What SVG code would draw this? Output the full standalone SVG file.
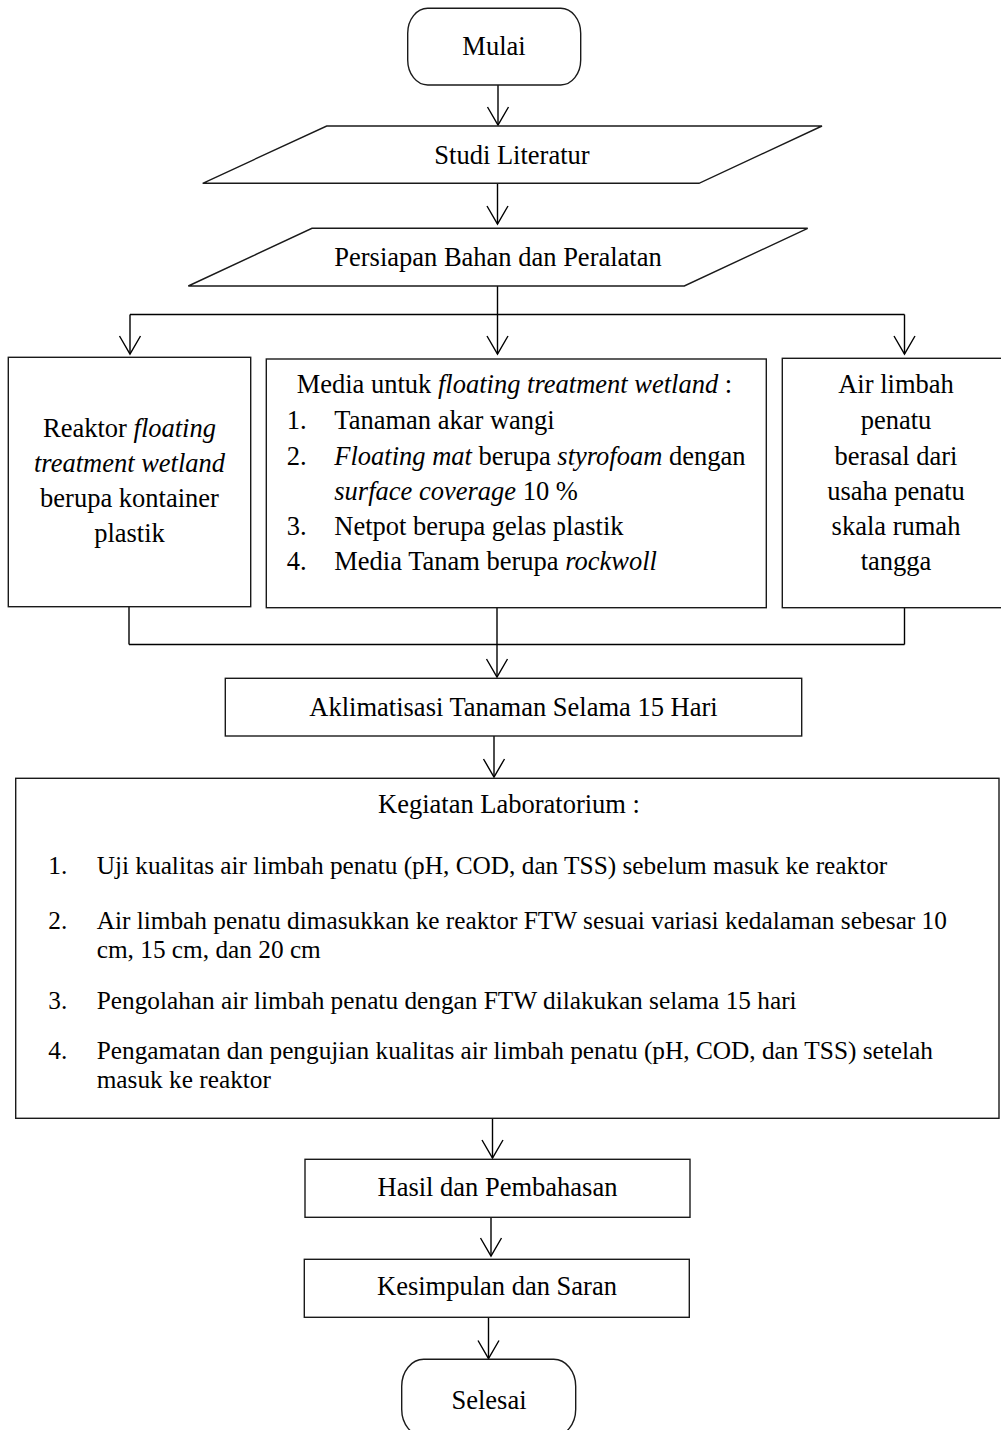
<svg xmlns="http://www.w3.org/2000/svg" width="1001" height="1430" viewBox="0 0 1001 1430">
<style>
  .bx { fill: #fff; stroke: #1a1a1a; stroke-width: 1.4; }
  .ln { fill: none; stroke: #000; stroke-width: 1.4; }
  .ar { fill: none; stroke: #000; stroke-width: 1.4; marker-end: url(#arr); }
  text { font-family: "Liberation Serif", "Times New Roman", serif; font-size: 26.5px; fill: #000; }
  .c { text-anchor: middle; }
  .sm { font-size: 25.3px; }
  .i { font-style: italic; }
</style>
<defs>
  <marker id="arr" markerUnits="userSpaceOnUse" markerWidth="26" markerHeight="28" viewBox="-22 -14 26 28" refX="0" refY="0" orient="auto">
    <path d="M-18,-10.5 L0,0 L-18,10.5" fill="none" stroke="#000" stroke-width="1.4"/>
  </marker>
</defs>
<rect width="1001" height="1430" fill="#fff"/>

<g id="connectors">
  <line class="ar" x1="498" y1="85" x2="498" y2="125"/>
  <line class="ar" x1="497.5" y1="183.5" x2="497.5" y2="224"/>
  <line class="ln" x1="497.5" y1="286" x2="497.5" y2="314.5"/>
  <line class="ln" x1="130" y1="314.5" x2="904.5" y2="314.5"/>
  <line class="ar" x1="130" y1="314.5" x2="130" y2="354"/>
  <line class="ar" x1="497.5" y1="314.5" x2="497.5" y2="354"/>
  <line class="ar" x1="904.5" y1="314.5" x2="904.5" y2="354"/>
  <line class="ln" x1="129" y1="607" x2="129" y2="644.5"/>
  <line class="ln" x1="904.5" y1="608" x2="904.5" y2="644.5"/>
  <line class="ln" x1="129" y1="644.5" x2="904.5" y2="644.5"/>
  <line class="ar" x1="497" y1="608" x2="497" y2="677"/>
  <line class="ar" x1="494" y1="736" x2="494" y2="777"/>
  <line class="ar" x1="492.5" y1="1118.5" x2="492.5" y2="1158"/>
  <line class="ar" x1="491" y1="1217.5" x2="491" y2="1256"/>
  <line class="ar" x1="488.5" y1="1317.5" x2="488.5" y2="1358.5"/>
</g>

<g id="mulai">
  <rect class="bx" x="407.7" y="8.3" width="173" height="76.7" rx="20" ry="25"/>
  <text class="c" x="494" y="55">Mulai</text>
</g>

<g id="studi-literatur">
  <polygon class="bx" points="326.7,126 822,126 699,183.3 202.7,183.3"/>
  <text class="c" x="512" y="164">Studi Literatur</text>
</g>

<g id="persiapan">
  <polygon class="bx" points="312,228.3 807.7,228.3 684.3,286 188.3,286"/>
  <text class="c" x="498" y="266">Persiapan Bahan dan Peralatan</text>
</g>

<g id="reaktor">
  <rect class="bx" x="8.3" y="357.3" width="242.4" height="249.4"/>
  <text class="c" x="129.5" y="437">Reaktor <tspan class="i">floating</tspan></text>
  <text class="c i" x="129.5" y="472">treatment wetland</text>
  <text class="c" x="129.5" y="507">berupa kontainer</text>
  <text class="c" x="129.5" y="542">plastik</text>
</g>

<g id="media">
  <rect class="bx" x="266.3" y="359" width="500" height="248.7"/>
  <text x="296.7" y="393">Media untuk <tspan class="i">floating treatment wetland</tspan> :</text>
  <text x="286.7" y="429">1.</text>
  <text x="334.3" y="429">Tanaman akar wangi</text>
  <text x="286.7" y="464.5">2.</text>
  <text x="334.3" y="464.5"><tspan class="i">Floating mat</tspan> berupa <tspan class="i">styrofoam</tspan> dengan</text>
  <text x="334.3" y="499.5"><tspan class="i">surface coverage</tspan> 10 %</text>
  <text x="286.7" y="534.5">3.</text>
  <text x="334.3" y="534.5">Netpot berupa gelas plastik</text>
  <text x="286.7" y="570">4.</text>
  <text x="334.3" y="570">Media Tanam berupa <tspan class="i">rockwoll</tspan></text>
</g>

<g id="air-limbah">
  <rect class="bx" x="782.3" y="358.3" width="230" height="249.4"/>
  <text class="c" x="896" y="393">Air limbah</text>
  <text class="c" x="896" y="429">penatu</text>
  <text class="c" x="896" y="464.5">berasal dari</text>
  <text class="c" x="896" y="499.5">usaha penatu</text>
  <text class="c" x="896" y="534.5">skala rumah</text>
  <text class="c" x="896" y="570">tangga</text>
</g>

<g id="aklimatisasi">
  <rect class="bx" x="225.3" y="678.3" width="576.4" height="57.7"/>
  <text class="c" x="513.5" y="716">Aklimatisasi Tanaman Selama 15 Hari</text>
</g>

<g id="kegiatan-lab">
  <rect class="bx" x="15.7" y="778.3" width="983.3" height="340"/>
  <text class="c" x="509" y="813">Kegiatan Laboratorium :</text>
  <text class="sm" x="48.3" y="874">1.</text>
  <text class="sm" x="96.7" y="874">Uji kualitas air limbah penatu (pH, COD, dan TSS) sebelum masuk ke reaktor</text>
  <text class="sm" x="48.3" y="929">2.</text>
  <text class="sm" x="96.7" y="929">Air limbah penatu dimasukkan ke reaktor FTW sesuai variasi kedalaman sebesar 10</text>
  <text class="sm" x="96.7" y="957.5">cm, 15 cm, dan 20 cm</text>
  <text class="sm" x="48.3" y="1008.5">3.</text>
  <text class="sm" x="96.7" y="1008.5">Pengolahan air limbah penatu dengan FTW dilakukan selama 15 hari</text>
  <text class="sm" x="48.3" y="1059">4.</text>
  <text class="sm" x="96.7" y="1059">Pengamatan dan pengujian kualitas air limbah penatu (pH, COD, dan TSS) setelah</text>
  <text class="sm" x="96.7" y="1088">masuk ke reaktor</text>
</g>

<g id="hasil">
  <rect class="bx" x="305" y="1159.3" width="385" height="58"/>
  <text class="c" x="497.5" y="1195.5">Hasil dan Pembahasan</text>
</g>

<g id="kesimpulan">
  <rect class="bx" x="304.3" y="1259.3" width="385" height="58"/>
  <text class="c" x="497" y="1295">Kesimpulan dan Saran</text>
</g>

<g id="selesai">
  <rect class="bx" x="401.7" y="1359.3" width="174" height="77" rx="22" ry="27"/>
  <text class="c" x="489" y="1408.5">Selesai</text>
</g>
</svg>
